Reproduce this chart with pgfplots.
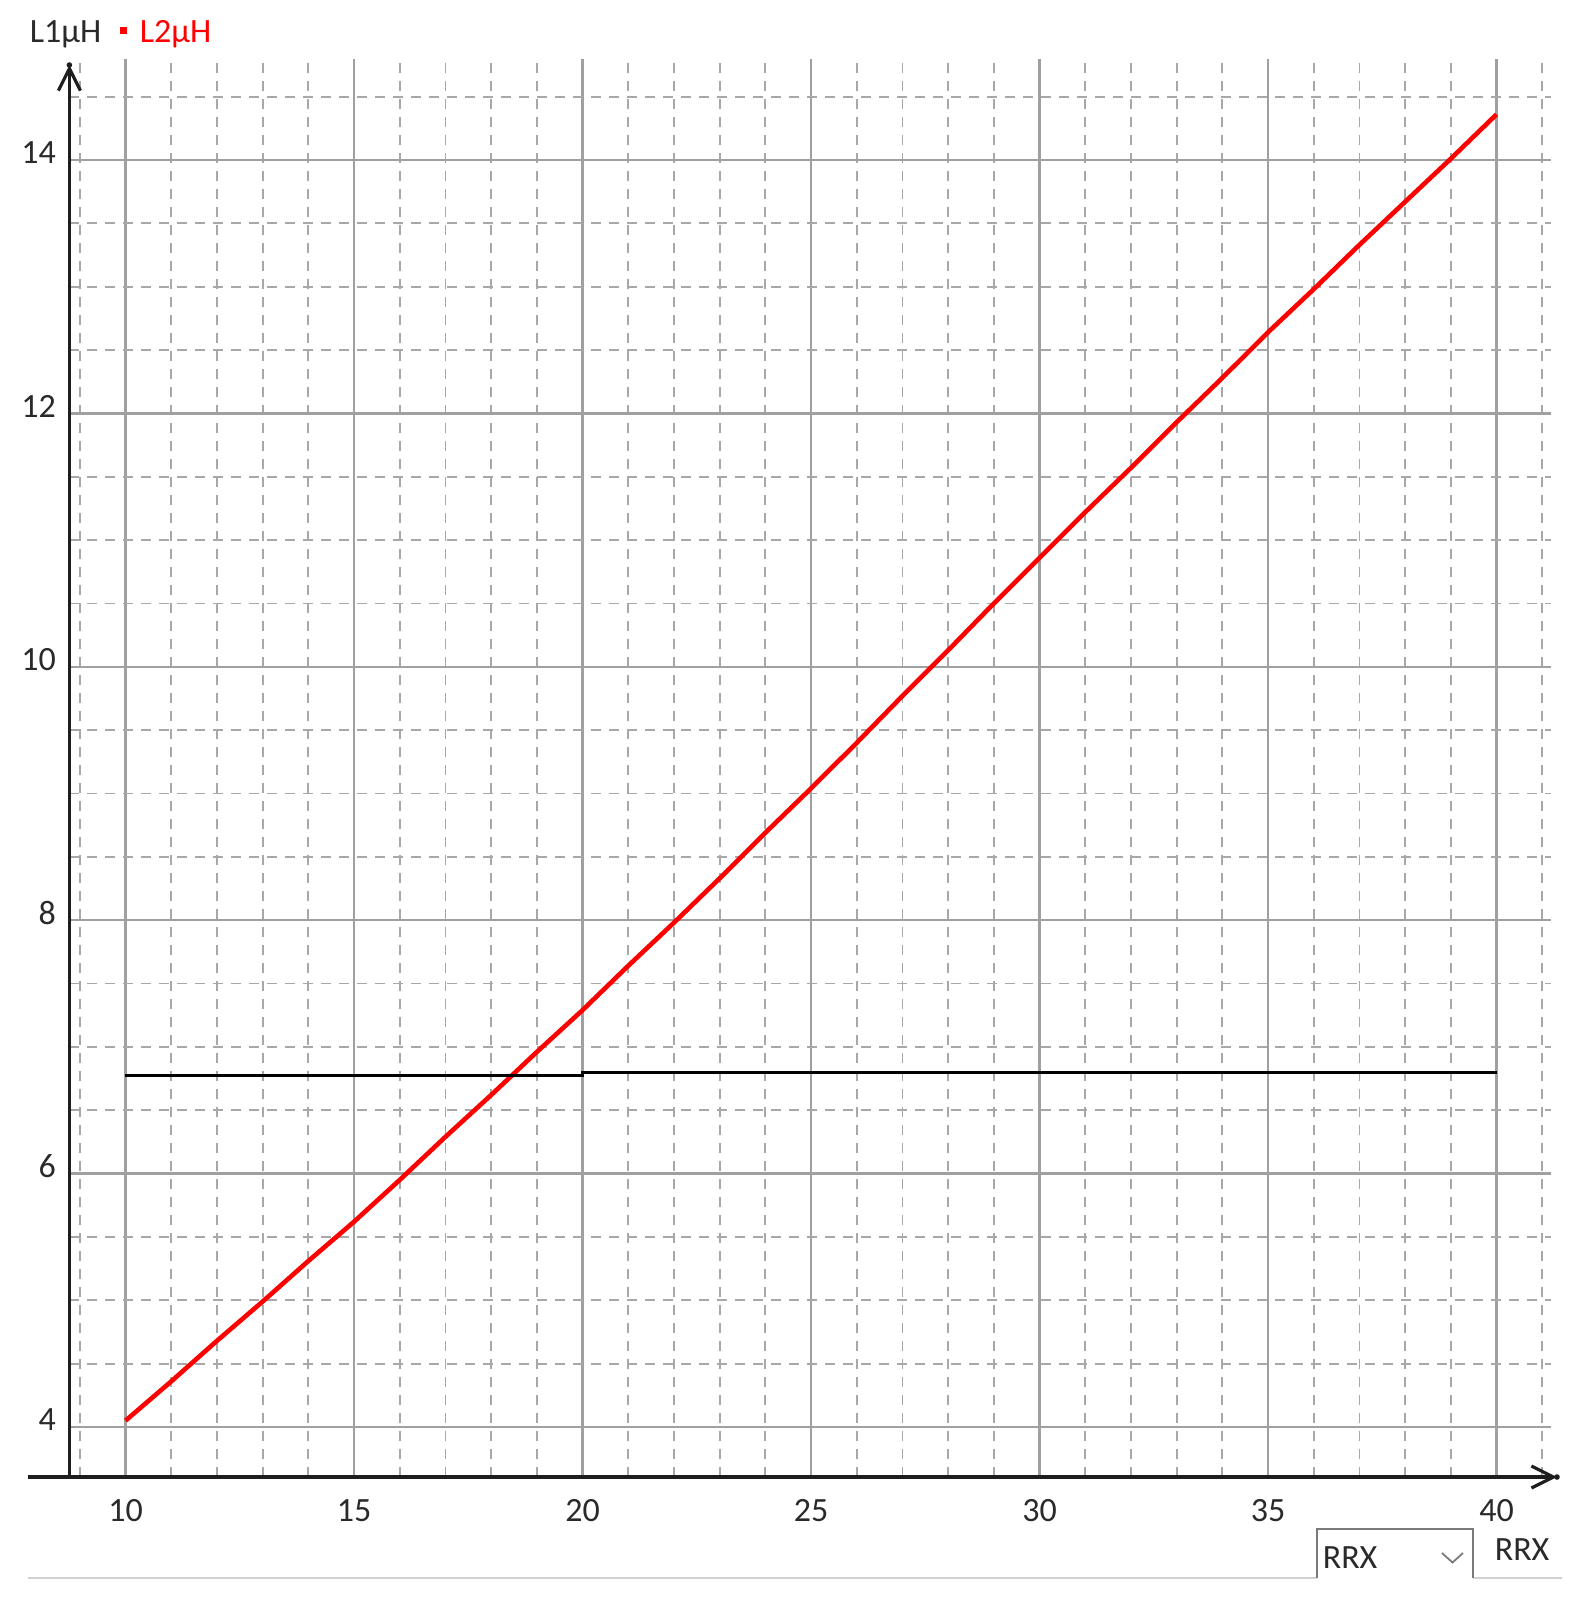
\documentclass[border=0pt]{standalone}
\usepackage{fontspec}
\setmainfont{Carlito}
\usepackage{pgfplots}
\pgfplotsset{compat=1.18}
\usetikzlibrary{arrows.meta}
\definecolor{gridmaj}{HTML}{A0A0A0}
\definecolor{gridmin}{HTML}{A8A8A8}
\definecolor{txt}{HTML}{2A2A2A}
\definecolor{axln}{HTML}{1E1E1E}
\definecolor{boxln}{HTML}{7A7A7A}

\begin{document}
\begin{tikzpicture}
% 1 px of the reference = 0.25pt; pixel scope below has y pointing down
\begin{axis}[
  at={(17.35pt,-369.25pt)}, anchor=south west,
  scale only axis, width=370.4pt, height=354.5pt,
  xmin=8.7724, xmax=41.1926, ymin=3.6054, ymax=14.797,
  xtick={10,15,...,40}, ytick={4,6,...,14},
  minor xtick={9,11,12,13,14,16,17,18,19,21,22,23,24,26,27,28,29,31,32,33,34,36,37,38,39,41},
  minor ytick={4.5,5,5.5,6.5,7,7.5,8.5,9,9.5,10.5,11,11.5,12.5,13,13.5,14.5},
  grid=both,
  major grid style={draw=gridmaj, line width=0.6pt},
  minor grid style={draw=gridmin, line width=0.45pt, dash pattern=on 2.5pt off 2pt},
  axis line style={draw=none},
  major tick length=0pt, minor tick length=0pt,
  tick label style={font=\fontsize{8.5}{10}\selectfont, text=txt},
  /pgf/number format/assume math mode=true,
  xticklabel style={anchor=north, inner sep=0pt, yshift=-5.5pt},
  yticklabel style={anchor=east, inner sep=0pt, xshift=-3.2pt, yshift=1.75pt},
  clip=false,
]
% L2 (red)
\addplot[red, line width=1.15pt, mark=none, line join=round] coordinates {
  (10,4.05)(11,4.36)(12,4.68)(13,4.99)(14,5.31)(15,5.62)(16,5.95)(17,6.29)
  (18,6.62)(19,6.96)(20,7.29)(21,7.64)(22,7.98)(23,8.33)(24,8.69)(25,9.04)
  (26,9.40)(27,9.77)(28,10.13)(29,10.50)(30,10.86)(31,11.22)(32,11.57)
  (33,11.93)(34,12.28)(35,12.64)(36,12.98)(37,13.33)(38,13.67)(39,14.01)(40,14.36)};
% L1 (black)
\addplot[black, line width=0.85pt, mark=none] coordinates {
  (10,6.776)(20,6.776)(20,6.80)(40,6.80)};
\end{axis}

\begin{scope}[x=0.25pt, y=-0.25pt]
  % axis lines with open arrows
  \draw[axln, line width=0.8pt, -{Straight Barb[length=5.5pt,width=5.5pt]}] (69.4,1477) -- (69.4,65);
  \fill[axln] (69.4,65) circle (0.7pt);
  \draw[axln, line width=0.8pt, -{Straight Barb[length=5.5pt,width=5.5pt]}] (27.5,1477) -- (1557,1477);
  \fill[axln] (1557,1477) circle (0.7pt);

  % legend
  \node[anchor=base west, inner sep=0pt, text=txt, font=\fontsize{8.5}{10}\selectfont] at (29,42) {L1μH};
  \fill[red] (120,27) rectangle (127,34);
  \node[anchor=base west, inner sep=0pt, text=red, font=\fontsize{8.5}{10}\selectfont] at (139,42) {L2μH};

  % bottom selector
  \draw[gray!35, line width=0.4pt] (27.5,1578) -- (1316.7,1578);
  \draw[gray!35, line width=0.4pt] (1472.7,1578) -- (1561.7,1578);
  \draw[boxln, line width=0.45pt] (1316.7,1578) -- (1316.7,1529) -- (1472.7,1529) -- (1472.7,1578);
  \node[anchor=base west, inner sep=0pt, text=txt, font=\fontsize{8.5}{10}\selectfont] at (1322,1568) {RRX};
  \draw[boxln, line width=0.45pt] (1442,1553) -- (1452.5,1562.5) -- (1463,1553);
  \node[anchor=base west, inner sep=0pt, text=txt, font=\fontsize{8.5}{10}\selectfont] at (1494,1560.7) {RRX};

  \pgfresetboundingbox
  \useasboundingbox (0,0) rectangle (1576,1600);
\end{scope}
\end{tikzpicture}
\end{document}
